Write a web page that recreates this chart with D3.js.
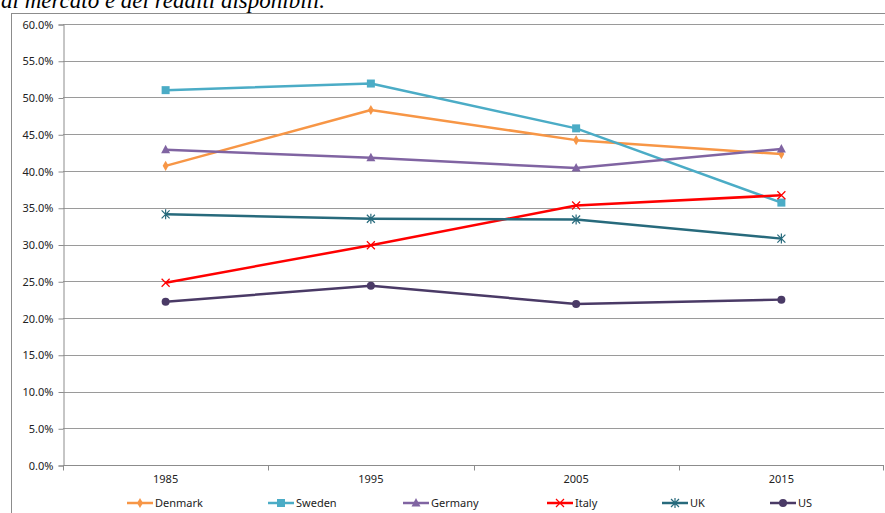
<!DOCTYPE html>
<html>
<head>
<meta charset="utf-8">
<script src="https://cdn.jsdelivr.net/npm/d3@7"></script>
<style>
  html, body { margin: 0; padding: 0; background: #fff; }
  svg { display: block; }
</style>
</head>
<body>
<svg id="chart" width="885" height="513"></svg>
<script>
'use strict';

const years = ['1985', '1995', '2005', '2015'];
const yTicks = [0, 5, 10, 15, 20, 25, 30, 35, 40, 45, 50, 55, 60];

const denmark = [40.7, 48.3, 44.2, 42.3];
const sweden = [51.0, 51.9, 45.8, 35.7];
const germany = [42.9, 41.8, 40.4, 43.0];
const italy = [24.8, 29.9, 35.3, 36.7];
const uk = [34.1, 33.5, 33.4, 30.8];
const us = [22.2, 24.4, 21.9, 22.5];

const seriesNames = ['Denmark', 'Sweden', 'Germany', 'Italy', 'UK', 'US'];
const seriesValues = [denmark, sweden, germany, italy, uk, us];
const seriesColors = ['#F79646', '#4BACC6', '#8064A2', '#FF0000', '#276A7C', '#4A3A66'];
const seriesMarkers = ['diamond', 'square', 'triangle', 'x', 'star', 'circle'];

const svg = d3.select('#chart');
const W = 885, H = 513;
const plot = { left: 63, right: 884, top: 24, bottom: 465 };
const font = '"Noto Sans", "Open Sans", sans-serif';
const fs = 11;

// title fragment cut off at the top
svg.append('text')
  .attr('x', 1)
  .attr('y', 8)
  .attr('font-family', '"Liberation Serif", "DejaVu Serif", serif')
  .attr('font-style', 'italic')
  .attr('font-size', 23)
  .attr('fill', '#000')
  .text('al mercato e dei redditi disponibili.');

// chart frame
svg.append('rect')
  .attr('x', 11.5).attr('y', 13.5)
  .attr('width', W).attr('height', H)
  .attr('fill', '#fff')
  .attr('stroke', '#8c8c8c')
  .attr('stroke-width', 1);

const x = d3.scaleBand().domain(years).range([plot.left, plot.right]).padding(0);
const y = d3.scaleLinear().domain([0, 60]).range([plot.bottom, plot.top]);
const cx = function (yr) { return x(yr) + x.bandwidth() / 2; };

// gridlines
svg.append('g')
  .selectAll('line')
  .data(yTicks.filter(function (t) { return t > 0; }))
  .join('line')
  .attr('x1', plot.left).attr('x2', plot.right)
  .attr('y1', function (d) { return Math.round(y(d)) + 0.5; })
  .attr('y2', function (d) { return Math.round(y(d)) + 0.5; })
  .attr('stroke', '#9a9a9a')
  .attr('stroke-width', 1);

// y axis
const yAxis = svg.append('g')
  .attr('transform', 'translate(' + (plot.left + 0.5) + ',0.5)')
  .call(d3.axisLeft(y).tickValues(yTicks).tickSize(5).tickPadding(5)
    .tickFormat(function (d) { return d.toFixed(1) + '%'; }));
yAxis.select('.domain').attr('stroke', '#8c8c8c');
yAxis.selectAll('.tick line').attr('stroke', '#8c8c8c');
yAxis.selectAll('.tick text')
  .attr('font-family', font).attr('font-size', fs).attr('fill', '#222');

// x axis with ticks at category boundaries
const xAxisG = svg.append('g').attr('transform', 'translate(0,' + (Math.round(plot.bottom) + 0.5) + ')');
xAxisG.append('line')
  .attr('x1', plot.left).attr('x2', plot.right)
  .attr('stroke', '#8c8c8c');
xAxisG.selectAll('.xb')
  .data(years.concat(['end']))
  .join('line')
  .attr('class', 'xb')
  .attr('x1', function (d, i) { return i < years.length ? Math.round(x(d)) + 0.5 : plot.right - 0.5; })
  .attr('x2', function (d, i) { return i < years.length ? Math.round(x(d)) + 0.5 : plot.right - 0.5; })
  .attr('y1', 0).attr('y2', 5)
  .attr('stroke', '#8c8c8c');
xAxisG.selectAll('text')
  .data(years)
  .join('text')
  .attr('x', function (d) { return cx(d); })
  .attr('y', 17)
  .attr('text-anchor', 'middle')
  .attr('font-family', font).attr('font-size', fs).attr('fill', '#222')
  .text(function (d) { return d; });

function drawMarker(g, type, color, px, py) {
  if (type === 'diamond') {
    g.append('path')
      .attr('d', d3.symbol().type(d3.symbolDiamond).size(30)())
      .attr('transform', 'translate(' + px + ',' + py + ')')
      .attr('fill', color);
  } else if (type === 'square') {
    g.append('rect')
      .attr('x', px - 4).attr('y', py - 4).attr('width', 8).attr('height', 8)
      .attr('fill', color);
  } else if (type === 'triangle') {
    g.append('path')
      .attr('d', 'M' + px + ',' + (py - 5) + 'L' + (px + 4.5) + ',' + (py + 3.5) + 'L' + (px - 4.5) + ',' + (py + 3.5) + 'Z')
      .attr('fill', color);
  } else if (type === 'x') {
    g.append('path')
      .attr('d', 'M' + (px - 4) + ',' + (py - 4) + 'L' + (px + 4) + ',' + (py + 4) +
        'M' + (px + 4) + ',' + (py - 4) + 'L' + (px - 4) + ',' + (py + 4))
      .attr('stroke', color).attr('stroke-width', 1.2).attr('fill', 'none');
  } else if (type === 'star') {
    g.append('path')
      .attr('d', 'M' + (px - 4) + ',' + (py - 4) + 'L' + (px + 4) + ',' + (py + 4) +
        'M' + (px + 4) + ',' + (py - 4) + 'L' + (px - 4) + ',' + (py + 4) +
        'M' + px + ',' + (py - 5) + 'L' + px + ',' + (py + 5))
      .attr('stroke', color).attr('stroke-width', 1.2).attr('fill', 'none');
  } else if (type === 'circle') {
    g.append('circle')
      .attr('cx', px).attr('cy', py).attr('r', 4)
      .attr('fill', color);
  }
}

const line = d3.line()
  .x(function (d) { return cx(d.year); })
  .y(function (d) { return y(d.value); });

const seriesG = svg.append('g');
for (let i = 0; i < seriesNames.length; i += 1) {
  const pts = years.map(function (yr, j) { return { year: yr, value: seriesValues[i][j] }; });
  const g = seriesG.append('g');
  g.append('path')
    .datum(pts)
    .attr('fill', 'none')
    .attr('stroke', seriesColors[i])
    .attr('stroke-width', 2.5)
    .attr('stroke-linejoin', 'round')
    .attr('d', line);
  pts.forEach(function (p) {
    drawMarker(g, seriesMarkers[i], seriesColors[i], cx(p.year), y(p.value));
  });
}

// legend
const legendX = [127, 268, 403, 547, 662, 770];
const legendY = 503;
const legend = svg.append('g');
for (let i = 0; i < seriesNames.length; i += 1) {
  const lg = legend.append('g');
  lg.append('line')
    .attr('x1', legendX[i]).attr('x2', legendX[i] + 26)
    .attr('y1', legendY).attr('y2', legendY)
    .attr('stroke', seriesColors[i]).attr('stroke-width', 2.5);
  drawMarker(lg, seriesMarkers[i], seriesColors[i], legendX[i] + 13, legendY);
  lg.append('text')
    .attr('x', legendX[i] + 28)
    .attr('y', legendY + 4)
    .attr('font-family', font).attr('font-size', fs).attr('fill', '#222')
    .text(seriesNames[i]);
}
</script>
</body>
</html>
